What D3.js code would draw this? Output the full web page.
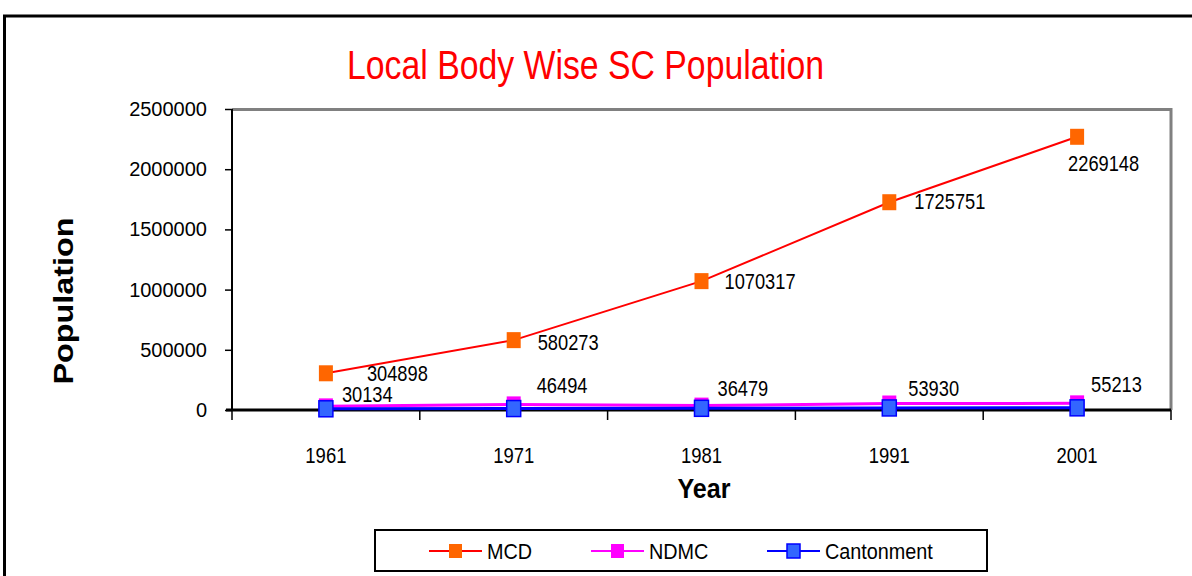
<!DOCTYPE html>
<html>
<head>
<meta charset="utf-8">
<script src="https://cdn.jsdelivr.net/npm/d3@7"></script>
<style>
  body { margin: 0; background: #fff; }
  svg { display: block; font-family: 'Liberation Sans', Arial, sans-serif; }
</style>
</head>
<body>
<div id="chart"></div>
<script>
const years = ['1961', '1971', '1981', '1991', '2001']
const mcd = [304898, 580273, 1070317, 1725751, 2269148]
const ndmc = [30134, 46494, 36479, 53930, 55213]
const cantonment = [10000, 12000, 14000, 17000, 18000]
const yTicks = [0, 500000, 1000000, 1500000, 2000000, 2500000]

const series = [
  { name: 'MCD', values: mcd, line: '#ff0000', width: 2, fill: '#ff6600', stroke: 'none' },
  { name: 'NDMC', values: ndmc, line: '#ff00ff', width: 3, fill: '#ff00ff', stroke: 'none' },
  { name: 'Cantonment', values: cantonment, line: '#0000ff', width: 3, fill: '#3366ff', stroke: '#0000ff' }
]

// hand placed data labels, as in the original sheet ([dx, dy] from marker centre)
const mcdLabelPos = [[41, 0], [24, 2], [23, 0], [25, -1], [-9, 26]]
const ndmcLabelPos = [[16, -12], [23, -19], [16, -18], [19, -15], [14, -19]]

const W = 1192
const H = 576
const margin = { top: 109, left: 232 }
const width = 1171 - margin.left
const height = 410 - margin.top

// squeeze text horizontally, the original uses a condensed face
function squeeze(sel, k) {
  sel.each(function() {
    const w = this.getComputedTextLength()
    d3.select(this).attr('textLength', w * k).attr('lengthAdjust', 'spacingAndGlyphs')
  })
}

const svg = d3.select('#chart').append('svg')
  .attr('width', W)
  .attr('height', H)

// outer chart frame
svg.append('path')
  .attr('d', 'M4.5,580 V16 H1196')
  .attr('fill', 'none')
  .attr('stroke', '#000')
  .attr('stroke-width', 3)

svg.append('text')
  .attr('x', 585.5)
  .attr('y', 79)
  .attr('text-anchor', 'middle')
  .attr('fill', '#ff0000')
  .attr('font-size', 40)
  .attr('textLength', 477)
  .attr('lengthAdjust', 'spacingAndGlyphs')
  .text('Local Body Wise SC Population')

const g = svg.append('g')
  .attr('transform', 'translate(' + margin.left + ',' + margin.top + ')')

const x = d3.scaleBand().domain(years).range([0, width])
const y = d3.scaleLinear().domain([0, 2500000]).range([height, 0])

// plot area frame (top and right, grey)
g.append('path')
  .attr('d', 'M0,0.5 H' + width + ' V' + height)
  .attr('fill', 'none')
  .attr('stroke', '#808080')
  .attr('stroke-width', 3)

const yAxis = g.append('g')
  .call(d3.axisLeft(y).tickValues(yTicks).tickSize(7).tickPadding(18).tickFormat(d3.format('d')))
yAxis.select('.domain').attr('stroke', '#000').attr('stroke-width', 2).attr('d', 'M0,0V' + height)
yAxis.selectAll('.tick line').attr('stroke', '#000').attr('stroke-width', 1.5)
yAxis.selectAll('.tick text')
  .attr('font-size', 20)
  .attr('font-family', 'Liberation Sans, Arial, sans-serif')
  .attr('fill', '#000')

// category boundaries for x ticks
const xEdges = years.map(d => x(d)).concat([width])
const xAxis = g.append('g')
  .attr('transform', 'translate(0,' + height + ')')
xAxis.append('line')
  .attr('x1', -6).attr('x2', width)
  .attr('stroke', '#000').attr('stroke-width', 3)
xAxis.selectAll('.xtick').data(xEdges).enter().append('line')
  .attr('x1', d => d).attr('x2', d => d)
  .attr('y1', 0).attr('y2', 10)
  .attr('stroke', '#000').attr('stroke-width', 1.5)
xAxis.selectAll('.xlabel').data(years).enter().append('text')
  .attr('x', d => x(d) + x.bandwidth() / 2)
  .attr('y', 45)
  .attr('dy', '0.36em')
  .attr('text-anchor', 'middle')
  .attr('font-size', 22)
  .text(d => d)
  .call(squeeze, 0.84)

svg.append('text')
  .attr('x', 704)
  .attr('y', 498)
  .attr('text-anchor', 'middle')
  .attr('font-weight', 'bold')
  .attr('font-size', 27)
  .attr('textLength', 53)
  .attr('lengthAdjust', 'spacingAndGlyphs')
  .text('Year')

svg.append('text')
  .attr('transform', 'translate(73,301) rotate(-90)')
  .attr('text-anchor', 'middle')
  .attr('font-weight', 'bold')
  .attr('font-size', 28)
  .attr('textLength', 167)
  .attr('lengthAdjust', 'spacingAndGlyphs')
  .text('Population')

const cx = d => x(d) + x.bandwidth() / 2
const line = d3.line().x(d => cx(d.year)).y(d => y(d.value))

series.forEach(s => {
  const pts = years.map((yr, i) => ({ year: yr, value: s.values[i] }))
  g.append('path')
    .datum(pts)
    .attr('d', line)
    .attr('fill', 'none')
    .attr('stroke', s.line)
    .attr('stroke-width', s.width)
})
series.forEach(s => {
  const pts = years.map((yr, i) => ({ year: yr, value: s.values[i] }))
  g.selectAll('.m-' + s.name).data(pts).enter().append('rect')
    .attr('x', d => cx(d.year) - 7)
    .attr('y', d => y(d.value) - 8)
    .attr('width', 14)
    .attr('height', 16)
    .attr('fill', s.fill)
    .attr('stroke', s.stroke)
    .attr('stroke-width', 1.5)
})

// data labels
g.selectAll('.lbl-mcd').data(mcd).enter().append('text')
  .attr('x', (d, i) => cx(years[i]) + mcdLabelPos[i][0])
  .attr('y', (d, i) => y(d) + mcdLabelPos[i][1])
  .attr('dy', '0.36em')
  .attr('font-size', 22)
  .text(d => d)
  .call(squeeze, 0.83)

g.selectAll('.lbl-ndmc').data(ndmc).enter().append('text')
  .attr('x', (d, i) => cx(years[i]) + ndmcLabelPos[i][0])
  .attr('y', (d, i) => y(d) + ndmcLabelPos[i][1])
  .attr('dy', '0.36em')
  .attr('font-size', 22)
  .text(d => d)
  .call(squeeze, 0.83)

// legend
const legend = svg.append('g').attr('transform', 'translate(375,530)')
legend.append('rect')
  .attr('width', 612).attr('height', 41)
  .attr('fill', '#fff').attr('stroke', '#000').attr('stroke-width', 2)
const legendX = [54, 216, 392]
const item = legend.selectAll('.item').data(series).enter().append('g')
  .attr('transform', (d, i) => 'translate(' + legendX[i] + ',21)')
item.append('line')
  .attr('x1', 0).attr('x2', 53)
  .attr('stroke', d => d.line).attr('stroke-width', 2)
item.append('rect')
  .attr('x', 20).attr('y', -7).attr('width', 13).attr('height', 14)
  .attr('fill', d => d.fill).attr('stroke', d => d.stroke).attr('stroke-width', 1.5)
item.append('text')
  .attr('x', 58).attr('y', 0)
  .attr('dy', '0.36em')
  .attr('font-size', 22)
  .text(d => d.name)
  .call(squeeze, 0.9)
</script>
</body>
</html>
